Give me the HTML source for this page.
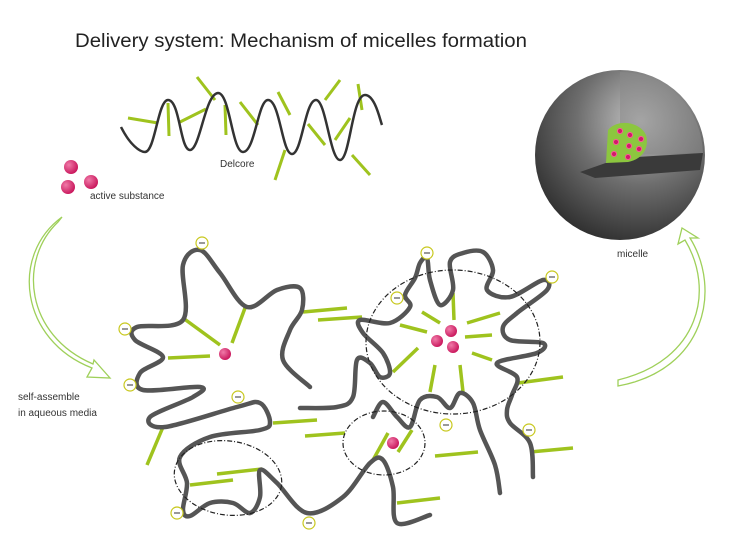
<!DOCTYPE html>
<html><head><style>
body{margin:0;background:#fff;width:743px;height:544px;overflow:hidden}
text{font-family:"Liberation Sans",sans-serif}
</style></head><body>
<svg id="s" width="743" height="544" viewBox="0 0 743 544">
<defs>
<radialGradient id="sph" cx="0.62" cy="0.3" r="0.75">
<stop offset="0" stop-color="#c4c4c4"/><stop offset="0.5" stop-color="#6e6e6e"/><stop offset="1" stop-color="#2e2e2e"/></radialGradient>
<radialGradient id="bd" cx="0.35" cy="0.35" r="0.7"><stop offset="0" stop-color="#f07aa8"/><stop offset="1" stop-color="#c8145a"/></radialGradient>
</defs>
<text x="75" y="47" font-size="19" fill="#222" textLength="452" lengthAdjust="spacingAndGlyphs">Delivery system: Mechanism of micelles formation</text>
<!-- Delcore -->
<g stroke="#9fc31e" stroke-width="3">
<line x1="128" y1="118" x2="158" y2="123"/><line x1="168" y1="103" x2="169" y2="136"/>
<line x1="180" y1="122" x2="206" y2="109"/><line x1="197" y1="77" x2="215" y2="100"/>
<line x1="225" y1="105" x2="226" y2="135"/><line x1="240" y1="102" x2="258" y2="125"/>
<line x1="278" y1="92" x2="290" y2="115"/><line x1="285" y1="150" x2="275" y2="180"/>
<line x1="308" y1="124" x2="325" y2="145"/><line x1="340" y1="80" x2="325" y2="100"/>
<line x1="350" y1="118" x2="335" y2="140"/><line x1="358" y1="84" x2="362" y2="110"/>
<line x1="352" y1="155" x2="370" y2="175"/></g>
<path d="M121,127 C130,145 140,152 145,152 C155,152 158,100 168,100 C180,100 180,150 190,150 C200,150 205,94 218,93 C230,93 232,152 243,152 C255,152 258,100 268,100 C280,100 282,154 292,154 C302,154 305,100 316,100 C326,100 330,160 340,160 C350,160 352,95 365,95 C375,95 380,120 382,125" fill="none" stroke="#333" stroke-width="2.5"/>
<text x="220" y="167" font-size="10" fill="#333">Delcore</text>
<!-- active substance -->
<circle cx="71" cy="167" r="7" fill="url(#bd)"/><circle cx="68" cy="187" r="7" fill="url(#bd)"/><circle cx="91" cy="182" r="7" fill="url(#bd)"/>
<text x="90" y="199" font-size="10" fill="#333">active substance</text>
<!-- arrows -->
<path d="M62,217 C10,255 20,340 92,368 L87,377 L110,378 L94,360 L93,364 C25,335 18,260 58,222 Z" fill="none" stroke="#9fd05a" stroke-width="1.3"/>
<path d="M618,380 C700,360 715,290 685,240 L678,244 L682,228 L698,238 L690,238 C722,290 705,370 618,386 Z" fill="none" stroke="#9fd05a" stroke-width="1.3"/>
<text x="18" y="400" font-size="10" fill="#333">self-assemble</text>
<text x="18" y="416" font-size="10" fill="#333">in aqueous media</text>
<!-- micelle -->
<circle cx="620" cy="155" r="85" fill="url(#sph)"/>
<path d="M620,155 L620,72 A83,83 0 0 1 703,153 Z" fill="#8a8a8a" opacity="0.55"/>
<path d="M580,172 L620,158 L703,153 L700,170 L595,178 Z" fill="#3a3a3a"/>
<path d="M608,130 C618,118 640,122 646,135 C650,150 640,160 628,162 L606,163 Z" fill="#8cc63f"/>
<g fill="#d01a6a" stroke="#f59" stroke-width="1"><circle cx="620" cy="131" r="2.5"/><circle cx="630" cy="135" r="2.5"/><circle cx="641" cy="139" r="2.5"/><circle cx="616" cy="142" r="2.5"/><circle cx="629" cy="146" r="2.5"/><circle cx="639" cy="149" r="2.5"/><circle cx="614" cy="154" r="2.5"/><circle cx="628" cy="157" r="2.5"/></g>
<text x="617" y="257" font-size="10" fill="#333">micelle</text>
<!-- sticks -->
<g stroke="#9fc31e" stroke-width="3.5">
<line x1="183" y1="318" x2="220" y2="345"/><line x1="245" y1="308" x2="232" y2="343"/><line x1="168" y1="358" x2="210" y2="356"/>
<line x1="303" y1="312" x2="347" y2="308"/><line x1="318" y1="320" x2="362" y2="317"/>
<line x1="163" y1="427" x2="147" y2="465"/><line x1="273" y1="423" x2="317" y2="420"/><line x1="305" y1="436" x2="345" y2="433"/>
<line x1="190" y1="485" x2="233" y2="480"/><line x1="217" y1="474" x2="262" y2="469"/>
<line x1="388" y1="433" x2="373" y2="460"/><line x1="412" y1="430" x2="398" y2="452"/>
<line x1="435" y1="456" x2="478" y2="452"/><line x1="397" y1="503" x2="440" y2="498"/>
<line x1="518" y1="383" x2="563" y2="377"/><line x1="530" y1="452" x2="573" y2="448"/>
<line x1="453" y1="293" x2="454" y2="320"/><line x1="422" y1="312" x2="440" y2="323"/><line x1="400" y1="325" x2="427" y2="332"/>
<line x1="418" y1="348" x2="393" y2="372"/><line x1="467" y1="323" x2="500" y2="313"/><line x1="465" y1="337" x2="492" y2="335"/>
<line x1="472" y1="353" x2="492" y2="360"/><line x1="435" y1="365" x2="430" y2="392"/><line x1="460" y1="365" x2="463" y2="392"/>
</g>
<g id="chains" fill="none" stroke="#555" stroke-width="4.5" stroke-linejoin="round" stroke-linecap="round"></g>
<!-- dashed ellipses -->
<g fill="none" stroke="#222" stroke-dasharray="5,2,1,2" stroke-width="1.2">
<ellipse cx="453" cy="342" rx="87" ry="72"/><ellipse cx="384" cy="443" rx="41" ry="32"/><ellipse cx="228" cy="478" rx="54" ry="37" transform="rotate(8 228 478)"/></g>
<circle cx="225" cy="354" r="6" fill="url(#bd)"/><circle cx="451" cy="331" r="6" fill="url(#bd)"/><circle cx="437" cy="341" r="6" fill="url(#bd)"/><circle cx="453" cy="347" r="6" fill="url(#bd)"/><circle cx="393" cy="443" r="6" fill="url(#bd)"/>
<g id="minus"></g>
</svg>
<script>
function smooth(p){var d="M"+p[0][0]+","+p[0][1];for(var i=0;i<p.length-1;i++){var a=p[i-1]||p[i],b=p[i],c=p[i+1],e=p[i+2]||c;
d+=" C"+(b[0]+(c[0]-a[0])/6).toFixed(1)+","+(b[1]+(c[1]-a[1])/6).toFixed(1)+" "+(c[0]-(e[0]-b[0])/6).toFixed(1)+","+(c[1]-(e[1]-b[1])/6).toFixed(1)+" "+c[0]+","+c[1];}return d;}
var ch=[
[[310,387],[283,360],[290,330],[302,310],[300,288],[277,290],[247,307],[220,273],[200,250],[183,265],[183,320],[137,327],[135,340],[163,357],[140,373],[143,390],[200,387],[193,397],[150,417],[165,427],[237,407],[260,403],[270,422],[260,430],[210,437],[180,457],[187,483],[183,510],[190,516],[210,503],[233,503],[250,513],[260,497],[260,470],[277,483],[307,513],[343,497],[370,463],[383,460],[393,487],[397,523],[430,515]],
[[300,408],[337,407],[353,397],[357,360],[370,363],[380,377],[390,373],[383,353],[363,333],[360,320],[390,323],[410,307],[405,295],[415,278],[420,263],[427,258],[430,280],[440,305],[453,290],[450,262],[463,253],[483,252],[493,270],[487,290],[510,297],[543,280],[547,290],[517,313],[503,327],[510,340],[543,343],[537,353],[497,363],[517,377],[512,395],[507,410],[510,423],[530,443],[533,477]],
[[373,417],[383,402],[397,417],[410,427],[420,400],[437,397],[450,408],[460,393],[473,403],[480,430],[495,465],[500,493]]
];
var g=document.getElementById("chains");
ch.forEach(function(p){var e=document.createElementNS("http://www.w3.org/2000/svg","path");e.setAttribute("d",smooth(p));g.appendChild(e);});
var m=[[202,243],[125,329],[130,385],[238,397],[427,253],[397,298],[552,277],[446,425],[529,430],[177,513],[309,523]];
var mg=document.getElementById("minus"),s="";
m.forEach(function(q){s+='<circle cx="'+q[0]+'" cy="'+q[1]+'" r="6" fill="#fff" stroke="#c8c81e" stroke-width="1.2"/><line x1="'+(q[0]-3)+'" y1="'+q[1]+'" x2="'+(q[0]+3)+'" y2="'+q[1]+'" stroke="#333" stroke-width="1"/>';});
mg.innerHTML=s;
</script>
</body></html>
